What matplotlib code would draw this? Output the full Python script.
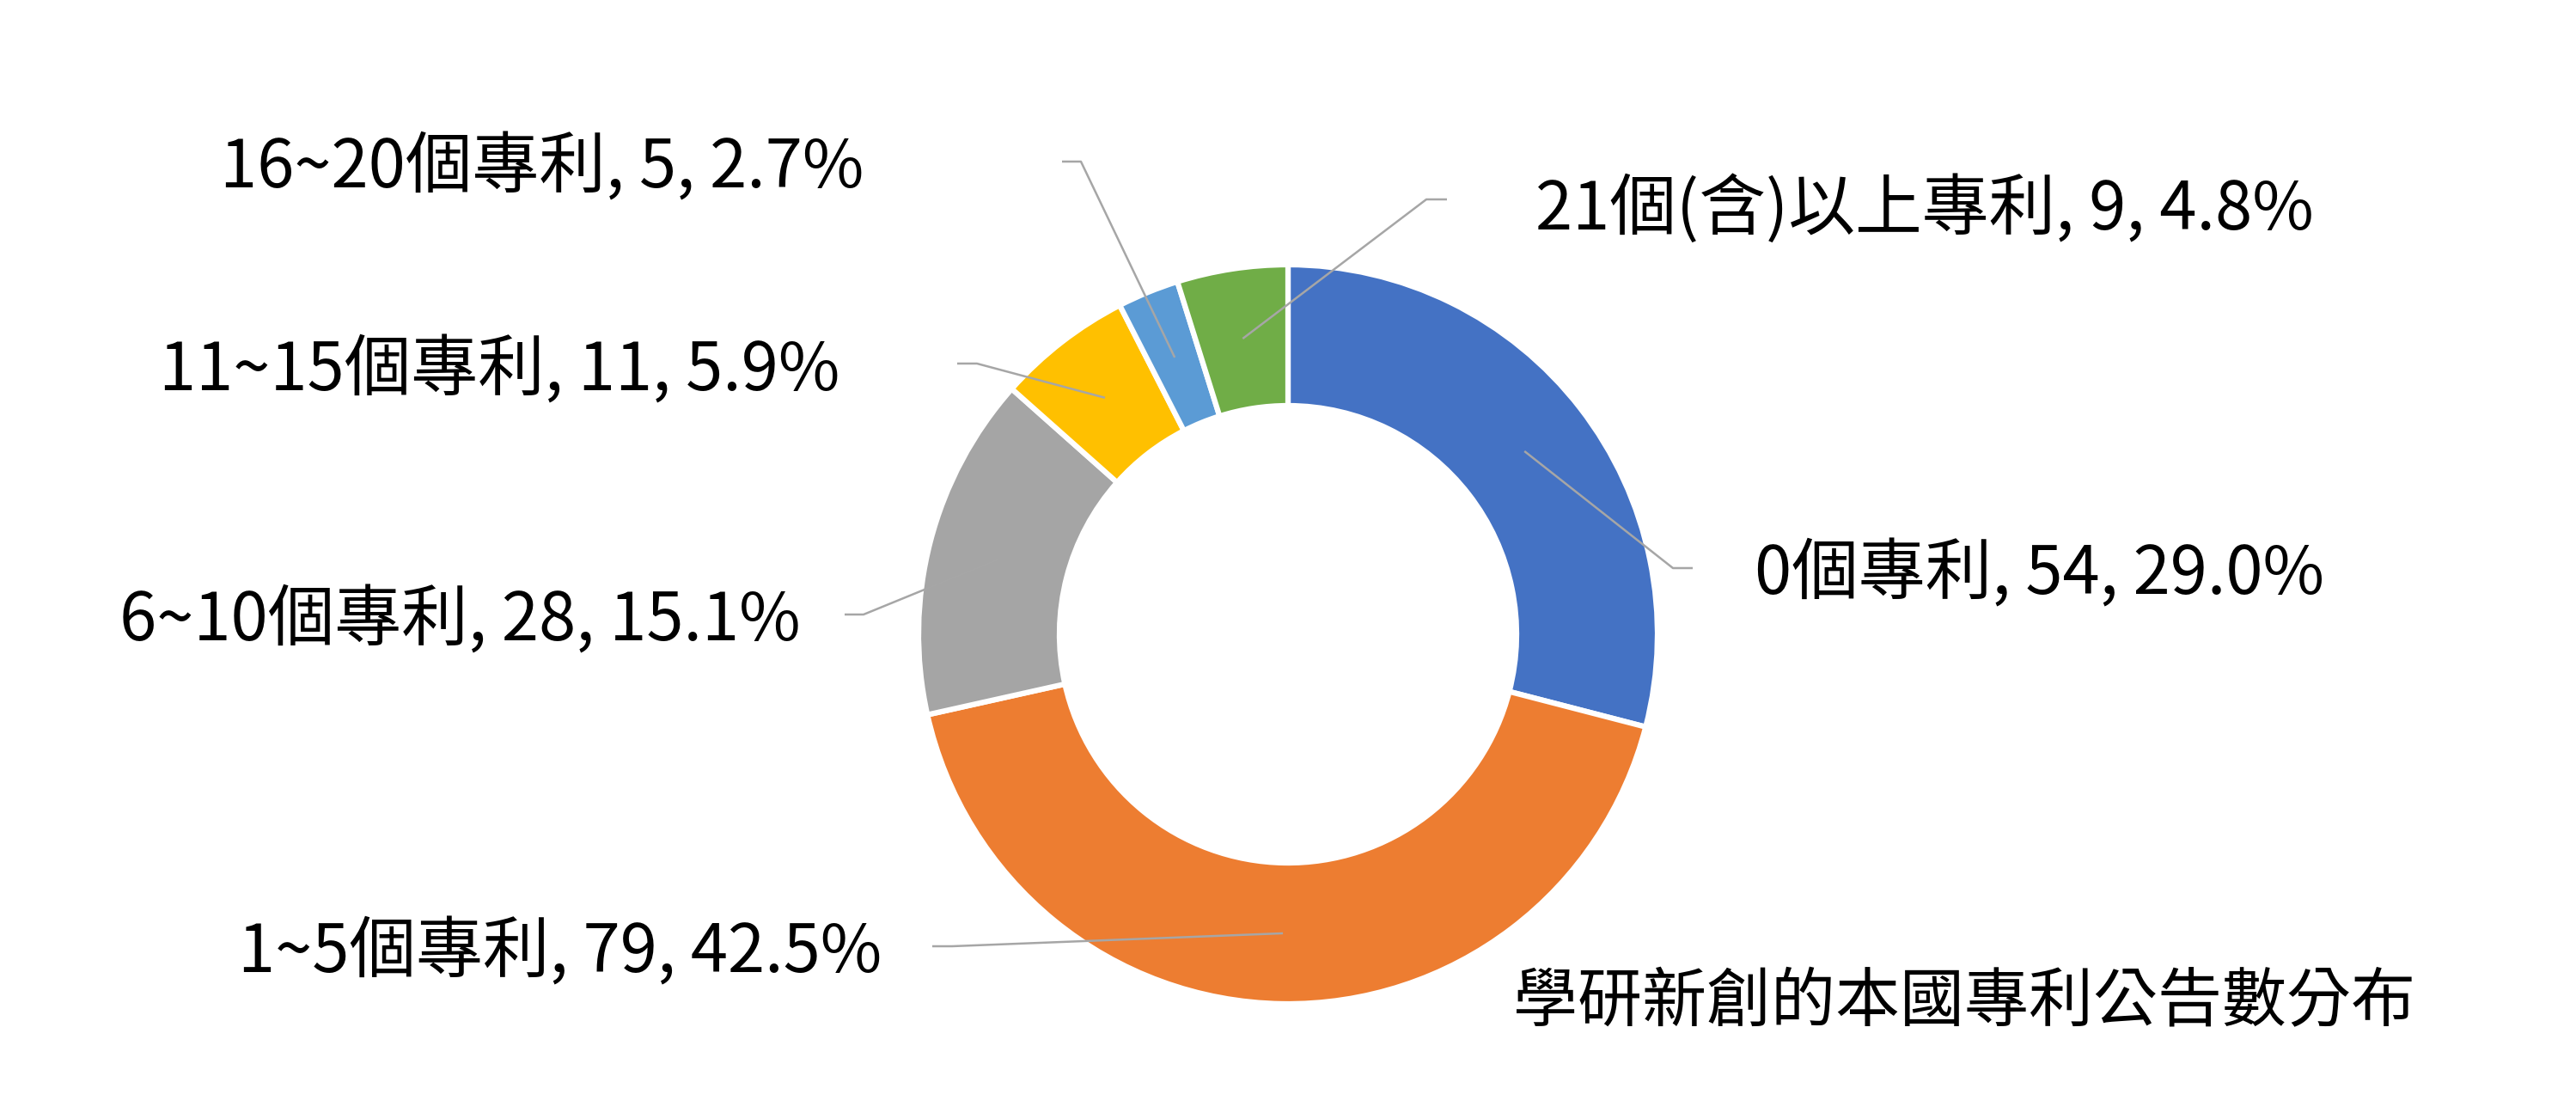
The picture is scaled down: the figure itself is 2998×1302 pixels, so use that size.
import numpy as np
import matplotlib
matplotlib.use("Agg")
import matplotlib.pyplot as plt

# ---- data ----
categories = ['0個專利', '1~5個專利', '6~10個專利', '11~15個專利', '16~20個專利', '21個(含)以上專利']
counts = [54, 79, 28, 11, 5, 9]
colors = ['#4472C4', '#ED7D31', '#A5A5A5', '#FFC000', '#5B9BD5', '#70AD47']
title = '學研新創的本國專利公告數分布'

# ---- layout (pixel coords, top-down y) ----
W, H = 2998, 1302
center_px = (1499, 738)
r_out = 430
r_in = 266
# label text centers
label_centers = [(2374, 669), (652, 1109), (535, 723), (581, 432), (631, 196), (2240, 245)]
# leader elbow points and horizontal end points
elbows = [(1947, 661), (1108, 1101), (1005, 715), (1137, 423), (1258, 188), (1660, 232)]
ends = [(1970, 661), (1085, 1101), (983, 715), (1114, 423), (1236, 188), (1684, 232)]
title_center = (2286, 1167)

plt.rcParams['font.family'] = ['Noto Sans CJK TC', 'DejaVu Sans']

fig = plt.figure(figsize=(W / 100, H / 100), dpi=100)
ax = fig.add_axes([0, 0, 1, 1])

def fy(y):
    return H - y

cx, cy = center_px[0], fy(center_px[1])
wedges, _ = ax.pie(counts, colors=colors, startangle=90, counterclock=False,
                   radius=r_out, center=(cx, cy),
                   wedgeprops=dict(width=r_out - r_in, edgecolor='white', linewidth=4.5))
ax.set_xlim(0, W)
ax.set_ylim(0, H)
ax.set_aspect('equal')
ax.axis('off')

total = sum(counts)
r_mid = (r_out + r_in) / 2
fs = 56
for i, (cat, v) in enumerate(zip(categories, counts)):
    w = wedges[i]
    ang = np.deg2rad((w.theta1 + w.theta2) / 2)
    px, py = cx + r_mid * np.cos(ang), cy + r_mid * np.sin(ang)
    ex, ey = elbows[i][0], fy(elbows[i][1])
    hx, hy = ends[i][0], fy(ends[i][1])
    ax.plot([px, ex, hx], [py, ey, hy], color='#A6A6A6', lw=1.8, solid_capstyle='butt', zorder=3)
    pct = v / total * 100
    txt = f'{cat}, {v}, {pct:.1f}%'
    lx, ly = label_centers[i]
    ax.text(lx, fy(ly), txt, ha='center', va='center', fontsize=fs, color='black')

ax.text(title_center[0], fy(title_center[1]), title, ha='center', va='center',
        fontsize=54, color='black')

fig.savefig('out.png', dpi=100, facecolor='white')
